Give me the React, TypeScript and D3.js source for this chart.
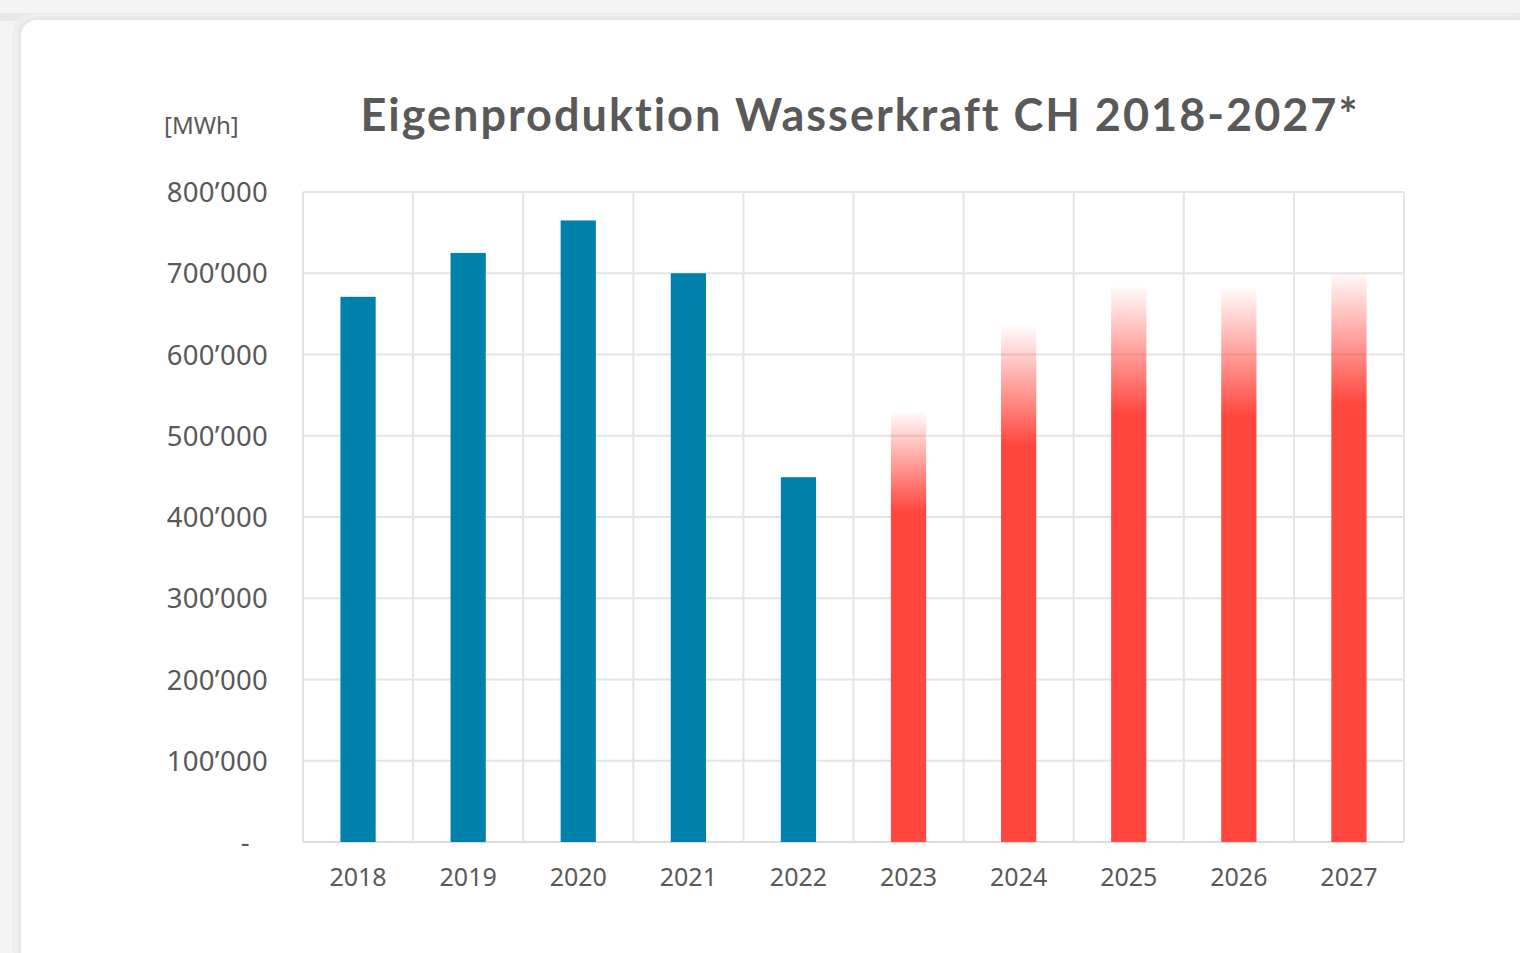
import { useEffect, useRef } from 'react'
import * as d3 from 'd3'

// Eigenproduktion Wasserkraft, MWh
const years = ['2018', '2019', '2020', '2021', '2022', '2023', '2024', '2025', '2026', '2027']
const values = [671000, 725000, 765000, 700000, 449000, 529000, 634000, 683000, 681000, 701000]
// true = forecast (red, faded top)
const forecast = [false, false, false, false, false, true, true, true, true, true]
const yTicks = [0, 100000, 200000, 300000, 400000, 500000, 600000, 700000, 800000]

const W = 1520
const H = 953
const textColor = '#595959'
const gridColor = '#e4e4e4'
const blue = '#0081ab'
const red = '#ff473f'
const font = "'Noto Sans', 'Open Sans', sans-serif"

const fmt = (v: number) => (v === 0 ? '-' : d3.format(',')(v).replace(/,/g, '\u2019'))

export default function App() {
  const svgRef = useRef<SVGSVGElement>(null)

  useEffect(() => {
    if (!svgRef.current) return
    const svg = d3.select(svgRef.current)
    svg.selectAll('*').remove()

    // page background + card
    svg.append('rect').attr('width', W).attr('height', H).attr('fill', '#f4f4f4')
    svg.append('rect').attr('x', 0).attr('y', 13).attr('width', W).attr('height', 8).attr('fill', '#e9e9e9')
    svg.append('rect')
      .attr('x', 12).attr('y', 14).attr('width', W).attr('height', H)
      .attr('rx', 20).attr('fill', '#eeeeee')
    svg.append('rect')
      .attr('x', 18).attr('y', 17).attr('width', W).attr('height', H)
      .attr('rx', 18).attr('fill', '#e7e7e7')
    svg.append('rect')
      .attr('x', 21).attr('y', 20).attr('width', W).attr('height', H)
      .attr('rx', 16).attr('fill', '#ffffff')

    const defs = svg.append('defs')
    const grad = defs.append('linearGradient')
      .attr('id', 'fade')
      .attr('x1', 0).attr('y1', 0).attr('x2', 0).attr('y2', 1)
    grad.append('stop').attr('offset', '0').attr('stop-color', red).attr('stop-opacity', 0.02)
    grad.append('stop').attr('offset', '0.23').attr('stop-color', red).attr('stop-opacity', 1)
    grad.append('stop').attr('offset', '1').attr('stop-color', red).attr('stop-opacity', 1)

    const x = d3.scaleBand<string>().domain(years).range([303, 1404]).padding(0)
    const y = d3.scaleLinear().domain([0, 800000]).range([842, 192])

    // horizontal grid
    svg.append('g')
      .selectAll('line')
      .data(yTicks)
      .enter()
      .append('line')
      .attr('x1', 303).attr('x2', 1404)
      .attr('y1', d => y(d)).attr('y2', d => y(d))
      .attr('stroke', d => (d === 0 ? '#dcdcdc' : gridColor))
      .attr('stroke-width', 2)

    // vertical grid at category boundaries
    const bounds = years.map(d => x(d) as number).concat([1404])
    svg.append('g')
      .selectAll('line')
      .data(bounds)
      .enter()
      .append('line')
      .attr('x1', d => d).attr('x2', d => d)
      .attr('y1', 192).attr('y2', 842)
      .attr('stroke', gridColor)
      .attr('stroke-width', 2)

    // bars
    const bw = x.bandwidth() * 0.32
    svg.append('g')
      .selectAll('rect')
      .data(years)
      .enter()
      .append('rect')
      .attr('x', d => (x(d) as number) + x.bandwidth() / 2 - bw / 2)
      .attr('width', bw)
      .attr('y', (_, i) => y(values[i]))
      .attr('height', (_, i) => y(0) - y(values[i]))
      .attr('fill', (_, i) => (forecast[i] ? 'url(#fade)' : blue))

    // y tick labels
    svg.append('g')
      .selectAll('text')
      .data(yTicks)
      .enter()
      .append('text')
      .attr('x', d => (d === 0 ? 250 : 268))
      .attr('y', d => y(d) + 10)
      .attr('text-anchor', 'end')
      .attr('font-family', font)
      .attr('font-size', 27.5)
      .attr('letter-spacing', 0.3)
      .attr('fill', textColor)
      .text(d => fmt(d))

    // x labels
    svg.append('g')
      .selectAll('text')
      .data(years)
      .enter()
      .append('text')
      .attr('x', d => (x(d) as number) + x.bandwidth() / 2)
      .attr('y', 886)
      .attr('text-anchor', 'middle')
      .attr('font-family', font)
      .attr('font-size', 25)
      .attr('fill', textColor)
      .text(d => d)

    // unit label
    svg.append('text')
      .attr('x', 164).attr('y', 134)
      .attr('font-family', font)
      .attr('font-size', 24)
      .attr('fill', textColor)
      .text('[MWh]')

    // title
    svg.append('text')
      .attr('x', 860).attr('y', 131)
      .attr('text-anchor', 'middle')
      .attr('font-family', "Lato, 'Noto Sans', sans-serif")
      .attr('font-weight', 'bold')
      .attr('font-size', 45)
      .attr('letter-spacing', 2)
      .attr('fill', textColor)
      .text('Eigenproduktion Wasserkraft CH 2018-2027*')
  }, [])

  return (
    <svg
      ref={svgRef}
      width={W}
      height={H}
      style={{ position: 'absolute', left: 0, top: 0, display: 'block' }}
    />
  )
}
